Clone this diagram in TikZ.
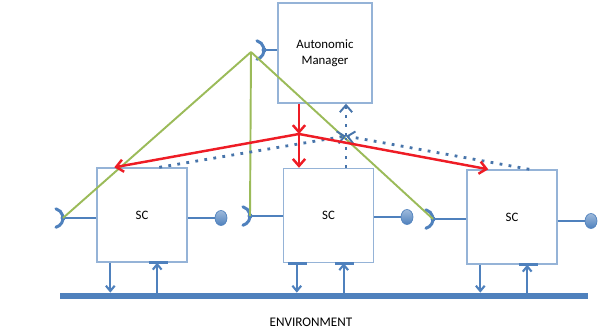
\documentclass[tikz,border=0pt]{standalone}
\usepackage{fontspec}
\setmainfont{Carlito}
\usetikzlibrary{arrows.meta,positioning,calc,shapes.geometric}
\definecolor{lineblue}{HTML}{4F81BD}
\definecolor{boxblue}{HTML}{95B3D7}
\definecolor{leafgreen}{HTML}{9BBB59}
\definecolor{cmdred}{HTML}{EE1C25}

\begin{document}
\begin{tikzpicture}[x=0.02cm,y=-0.02cm,
			comp/.style={draw=boxblue,line width=0.8pt,fill=white,minimum width=1.8cm,minimum height=1.88cm,inner sep=0pt,font=\fontsize{7.3}{8.8}\selectfont,align=center},
			ball/.style={ellipse,draw=lineblue,top color=lineblue!55,bottom color=lineblue,minimum width=0.24cm,minimum height=0.3cm,inner sep=0pt},
			conn/.style={draw=lineblue,line width=1.2pt},
			cup/.style={draw=lineblue,line width=1.7pt,line cap=round},
			io/.style={-{Straight Barb[length=3pt,width=5pt]},draw=lineblue,line width=1.2pt},
			tab/.style={draw=lineblue,line width=1.8pt},
			sig/.style={draw=leafgreen,line width=1.1pt},
			cmd/.style={-{Straight Barb[length=4pt,width=7pt]},draw=cmdred,line width=1.4pt},
			mon/.style={draw=lineblue!90!black,line width=1.6pt,dash pattern=on 1.6pt off 3.6pt},
			montip/.style={-{Straight Barb[length=4pt,width=7pt,line width=1.1pt]}}
			]
			\useasboundingbox (0,0) rectangle (605,331);
			% manager and the three components
			\node[comp,minimum width=1.88cm,minimum height=2cm] (am) at (325,53) {Autonomic\\Manager};
			\node[comp] (sc1) at (142,215) {SC};
			\node[comp] (sc2) at (328.5,215.5) {SC};
			\node[comp] (sc3) at (512,217) {SC};
			\node[fill=lineblue,minimum width=10.56cm,minimum height=0.12cm,inner sep=0pt] (env) at (324,296) {};
			\node[font=\fontsize{7.5}{9}\selectfont] (envlabel) at (311,322) {ENVIRONMENT};
			% provided interfaces
			\node[ball] (b1) at (221,218) {};
			\node[ball] (b2) at (407,217) {};
			\node[ball] (b3) at (591,221) {};
			\draw[conn] (sc1.east |- b1) -- (b1.west);
			\draw[conn] (sc2.east |- b2) -- (b2.west);
			\draw[conn] (sc3.east |- b3) -- (b3.west);
			% required interfaces
			\coordinate (amsk) at (264,50);
			\coordinate (sk1) at (63,218);
			\coordinate (sk2) at (250,216);
			\coordinate (sk3) at (433,219);
			\draw[conn] (amsk) -- (amsk -| am.west);
			\foreach \k/\s in {sk1/sc1,sk2/sc2,sk3/sc3}
				\draw[conn] (\k) -- (\k -| \s.west);
			\foreach \k in {amsk,sk1,sk2,sk3}{
				\draw[cup] ([shift={(-7.1,9.3)}]\k) arc[start angle=75,end angle=-75,radius=9.6];
				\fill[lineblue] (\k) circle[radius=2.5];
			}
			% bindings
			\coordinate (gp) at (251,52);
			\draw[sig] (gp) -- (sk1);
			\draw[sig] (gp) -- (sk2);
			\draw[sig] (gp) -- (sk3);
			% sensors and effectors to the environment
			\foreach \s in {sc1,sc2,sc3}{
				\draw[io] ([xshift=0.28cm]\s.south west) -- ([xshift=0.28cm]\s.south west |- env.north);
				\draw[io] ([xshift=-0.61cm]\s.south east |- env.north) -- ([xshift=-0.61cm]\s.south east);
				\draw[tab] ([xshift=-0.78cm]\s.south east) -- ([xshift=-0.4cm]\s.south east);
			}
			\draw[tab] ([xshift=0.1cm]sc2.south west) -- ([xshift=0.48cm]sc2.south west);
			% monitoring
			\coordinate (mp) at (346,136);
			\draw[mon,montip] ([xshift=1.26cm]sc1.north west) -- (mp);
			\draw[mon] (mp |- sc2.north) -- (mp);
			\draw[mon,montip] ([xshift=1.26cm]sc3.north west) -- (mp);
			\draw[mon,montip] (mp) -- (mp |- am.south);
			% control
			\coordinate (hub) at (299,134);
			\draw[cmd] (hub |- am.south) -- (hub);
			\draw[cmd] (hub) -- (hub |- sc2.north);
			\draw[cmd] (hub) -- ([xshift=0.36cm]sc1.north west);
			\draw[cmd] (hub) -- ([xshift=0.44cm]sc3.north west);
		\end{tikzpicture}
\end{document}
